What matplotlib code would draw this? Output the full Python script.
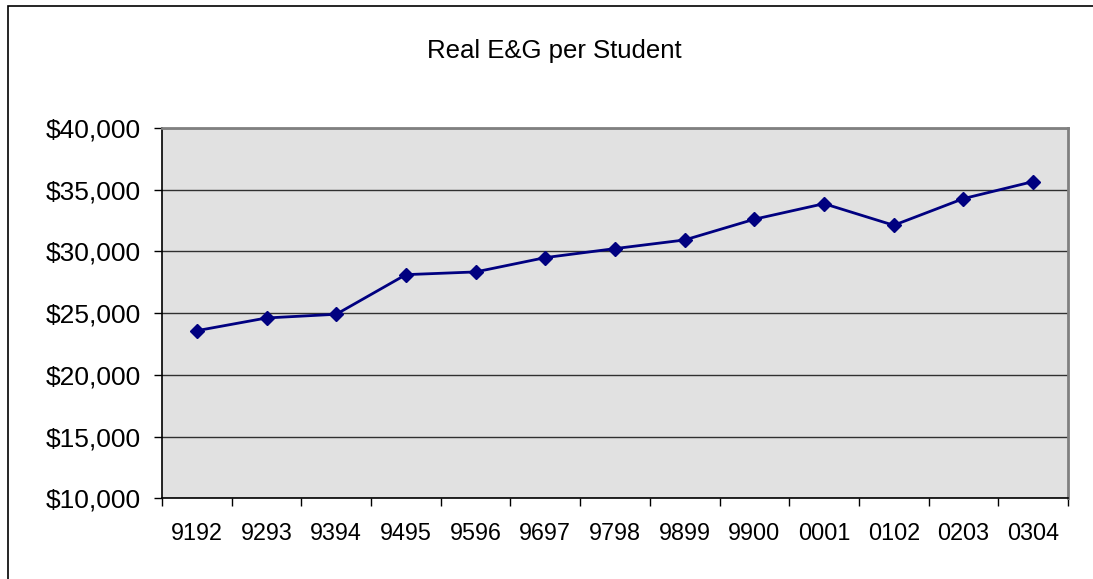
import matplotlib.pyplot as plt
import numpy as np
from matplotlib.patches import Rectangle
from matplotlib.ticker import FuncFormatter

years = ['9192', '9293', '9394', '9495', '9596', '9697', '9798',
         '9899', '9900', '0001', '0102', '0203', '0304']
eg_per_student = [23580, 24610, 24910, 28120, 28340, 29500, 30230,
                  30930, 32610, 33870, 32120, 34280, 35660]

plt.rcParams['font.family'] = ['Liberation Sans', 'DejaVu Sans']

fig = plt.figure(figsize=(10.93, 5.79), dpi=100)
ax = fig.add_axes([0.1482, 0.1394, 0.9771 - 0.1482, 0.7789 - 0.1394])

# outer chart frame
fig.patches.append(Rectangle((7.5 / 1093, -0.01), 1.1, 1 - 6.5 / 579 + 0.01,
                             transform=fig.transFigure, fill=False,
                             edgecolor='black', linewidth=1.2))

xpos = np.arange(len(years))
ax.set_facecolor('#e1e1e1')
ax.plot(xpos, eg_per_student, color='#000080', linewidth=2,
        marker='D', markersize=7.5, zorder=3)

ax.set_xlim(-0.5, len(years) - 0.5)
ax.set_ylim(10000, 40000)
ax.set_yticks(np.arange(10000, 40001, 5000))
ax.yaxis.set_major_formatter(FuncFormatter(lambda v, p: '${:,.0f}'.format(v)))
ax.grid(axis='y', color='#303030', linewidth=1)
ax.set_axisbelow(True)

ax.set_xticks(xpos)
ax.set_xticklabels(years)
ax.set_xticks(np.arange(-0.5, len(years)), minor=True)
ax.tick_params(axis='x', which='major', length=0, pad=17, labelsize=16.8)
ax.tick_params(axis='x', which='minor', length=5.5, width=1, direction='out')
ax.tick_params(axis='y', length=6, width=1, direction='out', pad=9, labelsize=19)

for side in ['left', 'bottom']:
    ax.spines[side].set_color('black')
    ax.spines[side].set_linewidth(1.2)
for side in ['top', 'right']:
    ax.spines[side].set_color('#808080')
    ax.spines[side].set_linewidth(2)

fig.text(554 / 1093, 1 - 58 / 579, 'Real E&G per Student',
         ha='center', va='baseline', fontsize=18.5)

fig.savefig('out.png', dpi=100)
